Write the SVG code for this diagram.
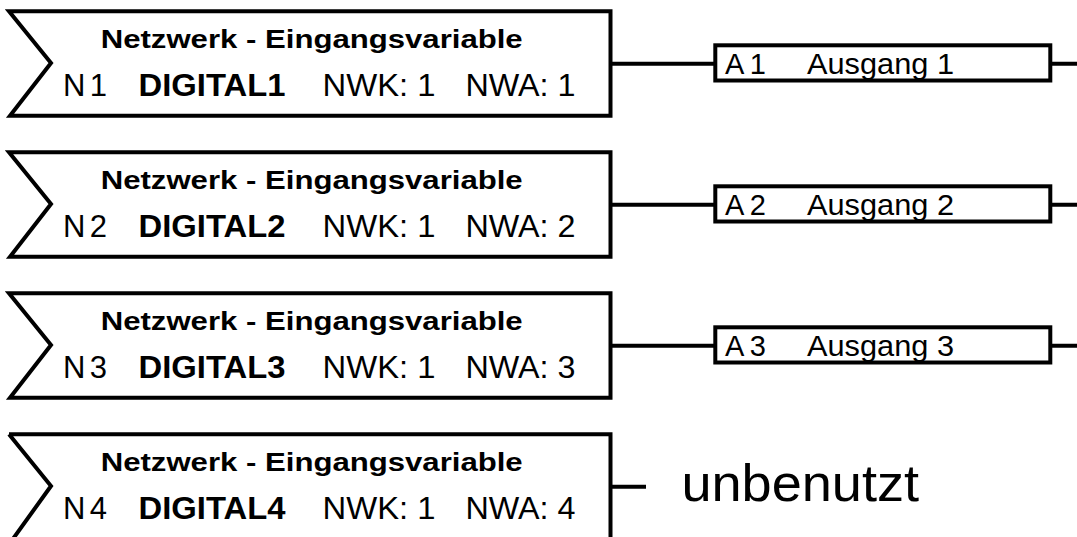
<svg xmlns="http://www.w3.org/2000/svg" width="1077" height="537" viewBox="0 0 1077 537">
<style>
.box{fill:#fff;stroke:#000;stroke-width:4;stroke-linejoin:miter}
.ln{stroke:#000;stroke-width:4;fill:none}
.t{font-family:"Liberation Sans",Arial,sans-serif;fill:#000}
.h{font-size:25.5px;font-weight:bold}
.r{font-size:31px}
.b{font-size:31px;font-weight:bold}
.o{font-size:29px}
.u{font-size:52px}
</style>
<defs>
<path id="inbox" d="M9,11.3 H610.5 V115.8 H10 L51,63 Z"/>
</defs>
<rect width="1077" height="537" fill="#fff"/>
<g id="connectors">
<path class="ln" d="M610.5,63.8 H715.3 M1050.3,63.8 H1077"/>
<path class="ln" d="M610.5,204.8 H715.3 M1050.3,204.8 H1077"/>
<path class="ln" d="M610.5,345.8 H715.3 M1050.3,345.8 H1077"/>
<path class="ln" d="M610.5,486.8 H646"/>
</g>
<g id="n1">
<use href="#inbox" class="box"/>
<text class="t h" x="100.7" y="47.5" textLength="422" lengthAdjust="spacingAndGlyphs">Netzwerk - Eingangsvariable</text>
<text class="t r" x="63" y="95.5" textLength="44" lengthAdjust="spacing">N1</text>
<text class="t b" x="138.5" y="96" textLength="147" lengthAdjust="spacingAndGlyphs">DIGITAL1</text>
<text class="t r" x="322.5" y="95.5" textLength="113" lengthAdjust="spacingAndGlyphs">NWK: 1</text>
<text class="t r" x="465.5" y="95.5" textLength="110" lengthAdjust="spacingAndGlyphs">NWA: 1</text>
</g>
<g id="n2" transform="translate(0,141)">
<use href="#inbox" class="box"/>
<text class="t h" x="100.7" y="47.5" textLength="422" lengthAdjust="spacingAndGlyphs">Netzwerk - Eingangsvariable</text>
<text class="t r" x="63" y="95.5" textLength="44" lengthAdjust="spacing">N2</text>
<text class="t b" x="138.5" y="96" textLength="147" lengthAdjust="spacingAndGlyphs">DIGITAL2</text>
<text class="t r" x="322.5" y="95.5" textLength="113" lengthAdjust="spacingAndGlyphs">NWK: 1</text>
<text class="t r" x="465.5" y="95.5" textLength="110" lengthAdjust="spacingAndGlyphs">NWA: 2</text>
</g>
<g id="n3" transform="translate(0,282)">
<use href="#inbox" class="box"/>
<text class="t h" x="100.7" y="47.5" textLength="422" lengthAdjust="spacingAndGlyphs">Netzwerk - Eingangsvariable</text>
<text class="t r" x="63" y="95.5" textLength="44" lengthAdjust="spacing">N3</text>
<text class="t b" x="138.5" y="96" textLength="147" lengthAdjust="spacingAndGlyphs">DIGITAL3</text>
<text class="t r" x="322.5" y="95.5" textLength="113" lengthAdjust="spacingAndGlyphs">NWK: 1</text>
<text class="t r" x="465.5" y="95.5" textLength="110" lengthAdjust="spacingAndGlyphs">NWA: 3</text>
</g>
<g id="n4" transform="translate(0,423)">
<path class="box" d="M9,11.3 H610.5 V120 M10,120 L51,63 L9,11.3"/>
<text class="t h" x="100.7" y="47.5" textLength="422" lengthAdjust="spacingAndGlyphs">Netzwerk - Eingangsvariable</text>
<text class="t r" x="63" y="95.5" textLength="44" lengthAdjust="spacing">N4</text>
<text class="t b" x="138.5" y="96" textLength="147" lengthAdjust="spacingAndGlyphs">DIGITAL4</text>
<text class="t r" x="322.5" y="95.5" textLength="113" lengthAdjust="spacingAndGlyphs">NWK: 1</text>
<text class="t r" x="465.5" y="95.5" textLength="110" lengthAdjust="spacingAndGlyphs">NWA: 4</text>
</g>
<g id="a1">
<rect class="box" x="715.3" y="45.3" width="335" height="35.2"/>
<text class="t o" x="725" y="73.5" textLength="41" lengthAdjust="spacing">A1</text>
<text class="t o" x="807" y="73.5" textLength="147" lengthAdjust="spacingAndGlyphs">Ausgang 1</text>
</g>
<g id="a2" transform="translate(0,141)">
<rect class="box" x="715.3" y="45.3" width="335" height="35.2"/>
<text class="t o" x="725" y="73.5" textLength="41" lengthAdjust="spacing">A2</text>
<text class="t o" x="807" y="73.5" textLength="147" lengthAdjust="spacingAndGlyphs">Ausgang 2</text>
</g>
<g id="a3" transform="translate(0,282)">
<rect class="box" x="715.3" y="45.3" width="335" height="35.2"/>
<text class="t o" x="725" y="73.5" textLength="41" lengthAdjust="spacing">A3</text>
<text class="t o" x="807" y="73.5" textLength="147" lengthAdjust="spacingAndGlyphs">Ausgang 3</text>
</g>
<g id="unused">
<text class="t u" x="681.4" y="500.5" textLength="237.7" lengthAdjust="spacingAndGlyphs">unbenutzt</text>
</g>
</svg>
